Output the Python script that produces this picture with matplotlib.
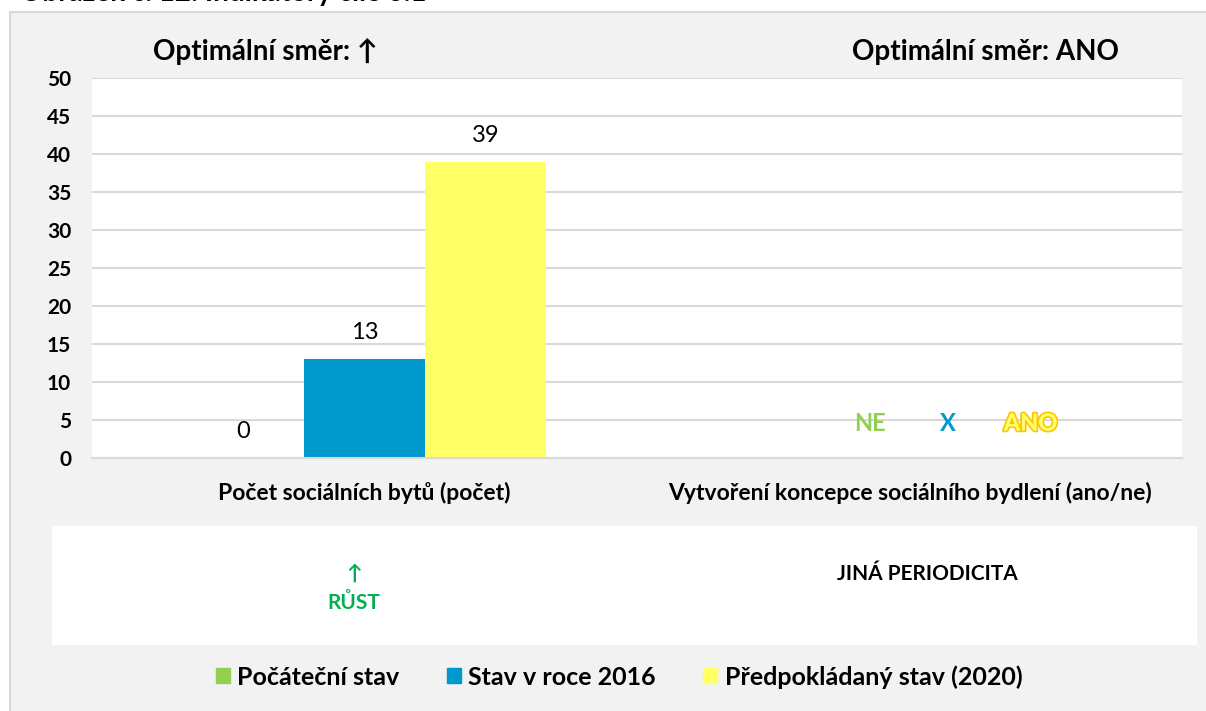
import numpy as np
import matplotlib.pyplot as plt
import matplotlib.patches as mpatches
import matplotlib.patheffects as pe

plt.rcParams['font.family'] = ['Lato', 'DejaVu Sans']

categories = ['Počet sociálních bytů (počet)', 'Vytvoření koncepce sociálního bydlení (ano/ne)']
series = ['Počáteční stav', 'Stav v roce 2016', 'Předpokládaný stav (2020)']
colors = ['#92d050', '#0099cc', '#ffff66']
values_cat1 = [0, 13, 39]
optimal = ['Optimální směr: ↑', 'Optimální směr: ANO']
status_words = ['NE', 'X', 'ANO']
status_colors = ['#92d050', '#0099cc', '#ffff66']
trend = ['↑\nRŮST', 'JINÁ PERIODICITA']
yticks = np.arange(0, 51, 5)

W, H = 1206, 711
fig = plt.figure(figsize=(W / 100, H / 100), dpi=100)
fig.patch.set_facecolor('white')

def box(x0, y0, x1, y1):
    # pixel coords (top-left origin) -> figure fraction
    return [x0 / W, 1 - y1 / H, (x1 - x0) / W, (y1 - y0) / H]

# grey chart frame
frame = mpatches.Rectangle((10 / W, -0.01), 1.0, 1 - 12 / H + 0.01, transform=fig.transFigure,
                           facecolor='#f2f2f2', edgecolor='#d9d9d9', lw=1.5, zorder=-10)
fig.patches.append(frame)

# caption, cut off at the top as in the source
fig.text(20 / W, 1 - 6 / H, 'Obrázek č. 12: Indikátory cíle 6.1', fontsize=20, fontweight='bold',
         va='bottom', ha='left', color='black')

ax = fig.add_axes(box(92, 78, 1182, 458))
ax.set_facecolor('white')
x = np.arange(len(categories))
bw = 0.222
for i, (s, c) in enumerate(zip(series, colors)):
    ax.bar(x[0] + (i - 1) * bw, values_cat1[i], width=bw, color=c, label=s, zorder=2)
    ax.annotate(str(values_cat1[i]), (x[0] + (i - 1) * bw, values_cat1[i]), xytext=(0, 19),
                textcoords='offset points', ha='center', va='center', fontsize=17)

ax.set_xlim(-0.5, 1.5)
ax.set_ylim(0, 50)
ax.set_yticks(yticks)
ax.set_yticklabels([str(v) for v in yticks], fontsize=15, fontweight='bold')
ax.yaxis.grid(True, color='#d9d9d9', lw=1.5, zorder=0)
ax.tick_params(axis='y', length=0, pad=15)
ax.tick_params(axis='x', length=0, pad=17)
ax.set_xticks(x)
ax.set_xticklabels(categories, fontsize=16.5, fontweight='bold')
for sp in ['top', 'right', 'left']:
    ax.spines[sp].set_visible(False)
ax.spines['bottom'].set_color('#d9d9d9')
ax.spines['bottom'].set_linewidth(1.5)

# status words for second indicator
status_x = [0.927, 1.071, 1.222]
for sx, w, c in zip(status_x, status_words, status_colors):
    t = ax.text(sx, 4.6, w, ha='center', va='center', fontsize=17, fontweight='bold', color=c)
    if w == 'ANO':
        t.set_path_effects([pe.withStroke(linewidth=2.5, foreground='#ffc000'), pe.Normal()])

# optimal direction headings
fig.text(265 / W, 1 - 52 / H, optimal[0], ha='center', va='center', fontsize=20, fontweight='bold')
fig.text(985 / W, 1 - 52 / H, optimal[1], ha='center', va='center', fontsize=20, fontweight='bold')

# lower trend box
ax2 = fig.add_axes(box(52, 526, 1197, 645))
ax2.set_facecolor('white')
ax2.set_xticks([])
ax2.set_yticks([])
for sp in ax2.spines.values():
    sp.set_visible(False)
ax2.text((354 - 52) / (1197 - 52), 1 - (588 - 526) / 119, trend[0], ha='center', va='center',
         fontsize=15, fontweight='bold', color='#00b050', linespacing=1.6, transform=ax2.transAxes)
ax2.text((927 - 52) / (1197 - 52), 1 - (574 - 526) / 119, trend[1], ha='center', va='center',
         fontsize=15, fontweight='bold', color='black', transform=ax2.transAxes)

# legend
handles = [mpatches.Patch(color=c, label=s) for s, c in zip(series, colors)]
fig.legend(handles=handles, loc='center', bbox_to_anchor=(619 / W, 1 - 677 / H), ncol=3,
           frameon=False, prop={'size': 18, 'weight': 'bold'}, handlelength=0.55, handleheight=0.55,
           handletextpad=0.3, columnspacing=1.9)

fig.savefig('out.png', dpi=100, facecolor=fig.get_facecolor())
